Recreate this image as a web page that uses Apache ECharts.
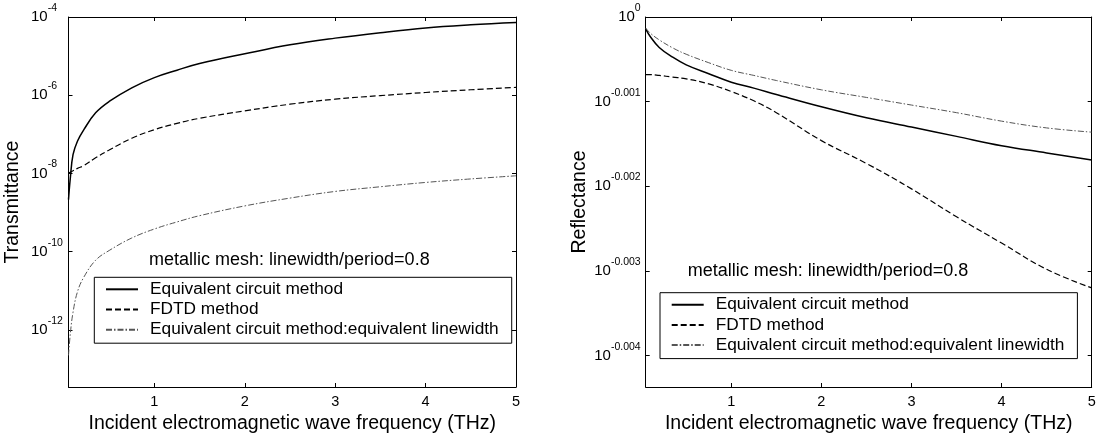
<!DOCTYPE html>
<html>
<head>
<meta charset="utf-8">
<title>Transmittance / Reflectance</title>
<script src="https://cdn.jsdelivr.net/npm/echarts@6/dist/echarts.min.js"></script>
<style>html,body{margin:0;padding:0;background:#fff}</style>
</head>
<body>
<div id="main" style="width:1097px;height:433px;"></div>
<script>
// frequency (THz), left plot
var tFreq = [0.05, 0.07, 0.1, 0.15, 0.22, 0.35, 0.5, 0.75, 1, 1.25, 1.5, 2, 2.5, 3, 3.5, 4, 4.5, 5];
// log10(transmittance)
var tEquiv   = [-8.67, -8.12, -7.52, -7.17, -6.88, -6.45, -6.16, -5.81, -5.55, -5.36, -5.19, -4.94, -4.71, -4.54, -4.40, -4.28, -4.20, -4.14];
var tFdtd    = [-7.99, -7.97, -7.93, -7.87, -7.80, -7.60, -7.40, -7.10, -6.88, -6.72, -6.59, -6.40, -6.23, -6.10, -6.01, -5.93, -5.86, -5.80];
var tEquivLw = [-12.65, -12.10, -11.55, -11.02, -10.65, -10.22, -9.97, -9.65, -9.42, -9.24, -9.08, -8.83, -8.63, -8.46, -8.34, -8.23, -8.14, -8.06];

// frequency (THz), right plot
var rFreq = [0.05, 0.1, 0.2, 0.35, 0.5, 0.75, 1, 1.25, 1.5, 2, 2.5, 3, 3.5, 4, 4.5, 5];
// log10(reflectance)
var rEquiv   = [-0.00014, -0.00023, -0.00036, -0.000475, -0.000565, -0.00067, -0.00077, -0.00084, -0.000915, -0.00106, -0.00119, -0.00130, -0.00141, -0.00152, -0.001605, -0.00169];
var rFdtd    = [-0.00068, -0.00068, -0.00069, -0.00071, -0.00073, -0.00079, -0.00088, -0.00099, -0.00113, -0.00146, -0.00173, -0.00203, -0.00236, -0.00267, -0.00298, -0.00320];
var rEquivLw = [-0.00013, -0.00019, -0.00027, -0.000365, -0.00044, -0.00054, -0.00063, -0.00069, -0.00075, -0.00086, -0.00095, -0.00104, -0.00113, -0.00123, -0.00131, -0.00136];

var xTicks = [1, 2, 3, 4, 5];
var tTicks = [-12, -10, -8, -6, -4];
var rTicks = [-0.004, -0.003, -0.002, -0.001, 0];
var names = ['Equivalent circuit method', 'FDTD method', 'Equivalent circuit method:equivalent linewidth'];

var FONT = 'Liberation Sans, Arial, Helvetica, sans-serif';
var styles = [
    {type: 'solid', width: 1.5, color: '#000'},
    {type: [6, 3], width: 1.2, color: '#000'},
    {type: [6, 2, 1.5, 2], width: 1, color: '#555'}
];

var myChart = echarts.init(document.getElementById('main'));

function pts(f, v) {
    return f.map(function (x, i) { return [x, v[i]]; });
}

function powLabel(v) {
    return '{b|10}{s|' + String(v) + '}';
}

var supRich = {
    b: {fontSize: 15, fontFamily: FONT, color: '#000'},
    s: {fontSize: 10.5, fontFamily: FONT, color: '#000', padding: [0, 0, 18, 0]}
};

function xAx(grid, pos) {
    var main = pos === 'bottom';
    return {
        gridIndex: grid, type: 'value', position: pos, min: 0.05, max: 5,
        axisLine: {show: true, onZero: false, lineStyle: {color: '#000', width: 1}},
        axisTick: {show: true, inside: true, length: 4, customValues: xTicks, lineStyle: {color: '#000'}},
        axisLabel: {show: main, customValues: xTicks, margin: 7, fontSize: 14.5, fontFamily: FONT, color: '#000'},
        splitLine: {show: false},
        name: main ? 'Incident electromagnetic wave frequency (THz)' : '',
        nameLocation: 'middle', nameGap: 25,
        nameTextStyle: {fontSize: 19.5, fontFamily: FONT, color: '#000'}
    };
}

function yAx(grid, pos, min, max, ticks, name, align, margin, gap) {
    var main = pos === 'left';
    return {
        gridIndex: grid, type: 'value', position: pos, min: min, max: max,
        axisLine: {show: true, onZero: false, lineStyle: {color: '#000', width: 1}},
        axisTick: {show: true, inside: true, length: 4, customValues: ticks, lineStyle: {color: '#000'}},
        axisLabel: {show: main, customValues: ticks, formatter: powLabel, rich: supRich, align: align, margin: margin},
        splitLine: {show: false},
        name: main ? name : '',
        nameLocation: 'middle', nameGap: gap, nameRotate: 90,
        nameTextStyle: {fontSize: 19.5, fontFamily: FONT, color: '#000'}
    };
}

function legendAt(left, top) {
    return {
        orient: 'vertical', left: left, top: top,
        itemWidth: 32, itemHeight: 14, itemGap: 3.2,
        padding: [3.5, 13, 5, 10.7],
        borderColor: '#000', borderWidth: 1,
        selectedMode: false,
        itemStyle: {color: 'rgba(0,0,0,0)', borderWidth: 0, opacity: 0},
        textStyle: {fontSize: 17.3, fontFamily: FONT, color: '#000', padding: [0, 0, 0, 7]},
        data: names
    };
}

var series = [];
[[tFreq, tEquiv], [tFreq, tFdtd], [tFreq, tEquivLw]].forEach(function (d, i) {
    series.push({
        name: names[i], type: 'line', xAxisIndex: 0, yAxisIndex: 0,
        symbol: 'none', smooth: 0.4,
        lineStyle: styles[i], itemStyle: {color: styles[i].color},
        data: pts(d[0], d[1])
    });
});
[[rFreq, rEquiv], [rFreq, rFdtd], [rFreq, rEquivLw]].forEach(function (d, i) {
    series.push({
        name: names[i], type: 'line', xAxisIndex: 2, yAxisIndex: 2,
        symbol: 'none', smooth: 0.4,
        lineStyle: styles[i], itemStyle: {color: styles[i].color},
        data: pts(d[0], d[1])
    });
});

myChart.setOption({
    animation: false,
    backgroundColor: '#fff',
    grid: [
        {left: 68.5, top: 17, width: 447.5, height: 370, outerBoundsMode: 'none', containLabel: false},
        {left: 645.7, top: 17, width: 446, height: 370, outerBoundsMode: 'none', containLabel: false}
    ],
    xAxis: [xAx(0, 'bottom'), xAx(0, 'top'), xAx(1, 'bottom'), xAx(1, 'top')],
    yAxis: [
        yAx(0, 'left', -13.46, -4, tTicks, 'Transmittance', 'left', 37.5, 46),
        yAx(0, 'right', -13.46, -4, tTicks, '', 'left', 0, 0),
        yAx(1, 'left', -0.00437, 0, rTicks, 'Reflectance', 'right', 5, 56),
        yAx(1, 'right', -0.00437, 0, rTicks, '', 'left', 0, 0)
    ],
    legend: [legendAt(94.3, 277.3), legendAt(660, 292.7)],
    graphic: [
        {type: 'text', x: 149, y: 260, style: {text: 'metallic mesh: linewidth/period=0.8', fontSize: 18, fontFamily: FONT, fill: '#000', verticalAlign: 'middle'}},
        {type: 'text', x: 687.7, y: 270.7, style: {text: 'metallic mesh: linewidth/period=0.8', fontSize: 18, fontFamily: FONT, fill: '#000', verticalAlign: 'middle'}}
    ],
    series: series
});
</script>
</body>
</html>
